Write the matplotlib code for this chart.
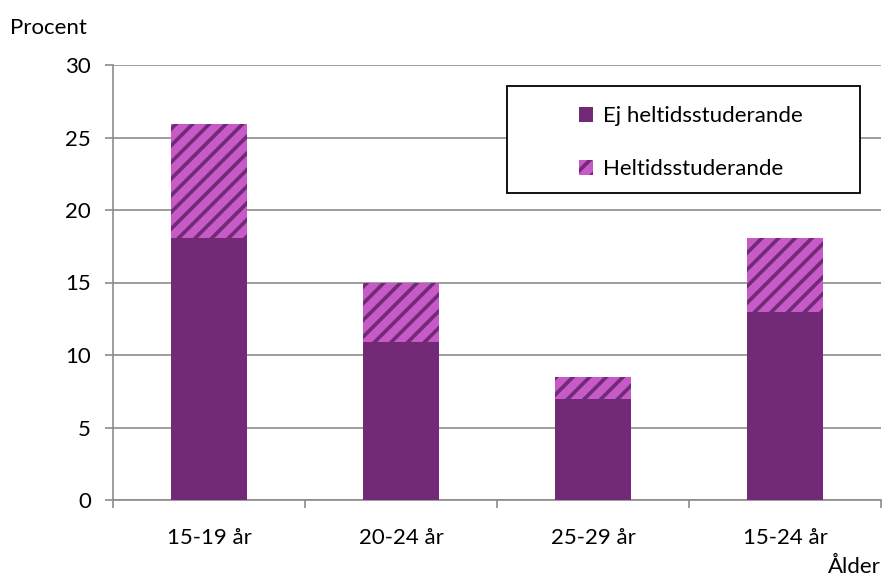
import matplotlib
matplotlib.use('Agg')
import matplotlib.pyplot as plt
from matplotlib.patches import Patch, Rectangle
import numpy as np

# Data
kategorier = ['15-19 år', '20-24 år', '25-29 år', '15-24 år']
ej_heltid = [18.1, 10.9, 7.0, 13.0]
heltid = [7.8, 4.1, 1.5, 5.1]

mork = '#722a77'
ljus = '#c65ac6'
gra = '#8c8c8c'
fs = 16

plt.rcParams['font.family'] = ['Lato', 'DejaVu Sans']
plt.rcParams['hatch.linewidth'] = 2.6

fig = plt.figure(figsize=(8.86, 5.78), dpi=100)
ax = fig.add_axes([113 / 886, 1 - 500 / 578, 768 / 886, 435 / 578])

x = np.arange(len(kategorier))
ax.bar(x, ej_heltid, width=0.4, color=mork, linewidth=0, zorder=3)
ax.bar(x, heltid, width=0.4, bottom=ej_heltid, color=ljus, edgecolor=mork,
       hatch='//', linewidth=0, zorder=3)

ax.set_xlim(-0.5, len(kategorier) - 0.5)
ax.set_ylim(0, 30)
ax.set_yticks(range(0, 31, 5))
ax.set_xticks(x)
ax.set_xticklabels(kategorier)
ax.set_xticks(np.arange(-0.5, len(kategorier)), minor=True)

ax.yaxis.grid(True, color=gra, linewidth=1.2, zorder=0)
ax.set_axisbelow(True)
for s in ['top', 'right']:
    ax.spines[s].set_visible(False)
for s in ['left', 'bottom']:
    ax.spines[s].set_color(gra)
    ax.spines[s].set_linewidth(1.2)

ax.tick_params(axis='y', length=6, width=1.2, color=gra, pad=10, labelsize=fs)
ax.tick_params(axis='x', which='major', length=0, pad=20, labelsize=fs)
ax.tick_params(axis='x', which='minor', length=6, width=1.2, color=gra)

fig.text(10 / 886, 1 - 28 / 578, 'Procent', fontsize=fs, va='center', ha='left')
fig.text(881 / 886, 1 - 567 / 578, 'Ålder', fontsize=fs, va='center', ha='right')

# Legend box
ax.add_patch(Rectangle((0.513, 0.706), 0.46, 0.246, transform=ax.transAxes,
                       facecolor='white', edgecolor='black', linewidth=1.3, zorder=4))
handles = [Patch(facecolor=mork, linewidth=0),
           Patch(facecolor=ljus, edgecolor=mork, hatch='//', linewidth=0)]
leg = ax.legend(handles, ['Ej heltidsstuderande', 'Heltidsstuderande'],
                loc='upper left', bbox_to_anchor=(0.592, 0.931), frameon=False,
                fontsize=fs, handlelength=0.65, handleheight=0.65,
                handletextpad=0.45, labelspacing=1.48, borderpad=0)
leg.set_zorder(5)

fig.savefig('out.png', dpi=100)
